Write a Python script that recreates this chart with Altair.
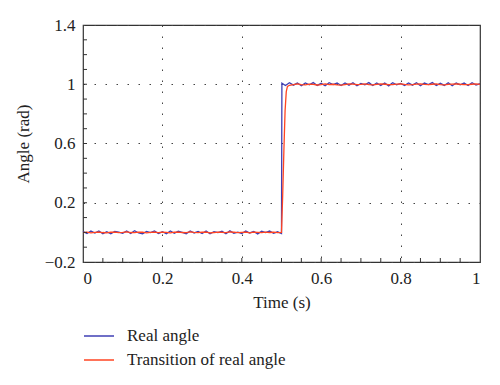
import altair as alt
import pandas as pd

# ---- data ----
series_names = ["Real angle", "Transition of real angle"]

blue_time = [
    0.00, 0.01, 0.02, 0.03, 0.04, 0.05, 0.06, 0.07, 0.08, 0.09,
    0.10, 0.11, 0.12, 0.13, 0.14, 0.15, 0.16, 0.17, 0.18, 0.19,
    0.20, 0.21, 0.22, 0.23, 0.24, 0.25, 0.26, 0.27, 0.28, 0.29,
    0.30, 0.31, 0.32, 0.33, 0.34, 0.35, 0.36, 0.37, 0.38, 0.39,
    0.40, 0.41, 0.42, 0.43, 0.44, 0.45, 0.46, 0.47, 0.48, 0.49,
    0.50, 0.501,
    0.51, 0.52, 0.53, 0.54, 0.55, 0.56, 0.57, 0.58, 0.59, 0.60,
    0.61, 0.62, 0.63, 0.64, 0.65, 0.66, 0.67, 0.68, 0.69, 0.70,
    0.71, 0.72, 0.73, 0.74, 0.75, 0.76, 0.77, 0.78, 0.79, 0.80,
    0.81, 0.82, 0.83, 0.84, 0.85, 0.86, 0.87, 0.88, 0.89, 0.90,
    0.91, 0.92, 0.93, 0.94, 0.95, 0.96, 0.97, 0.98, 0.99, 1.00,
]
blue_angle = [
    0.006, -0.008, 0.009, -0.004, 0.010, -0.009, 0.004, -0.010, 0.007, 0.002,
    -0.006, 0.009, -0.008, 0.011, -0.004, -0.009, 0.006, -0.002, 0.010, -0.008,
    0.004, -0.010, 0.009, -0.006, 0.008, 0.000, -0.009, 0.010, -0.004, 0.006,
    -0.008, 0.009, -0.010, 0.004, -0.002, 0.008, -0.009, 0.010, -0.006, 0.002,
    -0.008, 0.009, -0.004, 0.006, -0.010, 0.008, -0.002, 0.009, -0.006, 0.004,
    -0.008, 1.007,
    0.991, 1.010, 0.994, 1.008, 0.990, 1.009, 0.996, 1.011, 0.992, 1.006,
    0.990, 1.010, 0.998, 1.008, 0.991, 1.009, 0.994, 1.010, 0.990, 1.006,
    0.996, 1.011, 0.991, 1.008, 0.992, 1.009, 0.989, 1.010, 0.996, 1.006,
    0.991, 1.009, 0.994, 1.010, 0.990, 1.008, 0.998, 1.011, 0.991, 1.006,
    0.992, 1.010, 0.990, 1.009, 0.996, 1.008, 0.991, 1.010, 0.994, 1.004,
]

red_time = [
    0.00, 0.01, 0.02, 0.03, 0.04, 0.05, 0.06, 0.07, 0.08, 0.09,
    0.10, 0.11, 0.12, 0.13, 0.14, 0.15, 0.16, 0.17, 0.18, 0.19,
    0.20, 0.21, 0.22, 0.23, 0.24, 0.25, 0.26, 0.27, 0.28, 0.29,
    0.30, 0.31, 0.32, 0.33, 0.34, 0.35, 0.36, 0.37, 0.38, 0.39,
    0.40, 0.41, 0.42, 0.43, 0.44, 0.45, 0.46, 0.47, 0.48, 0.49,
    0.50, 0.503, 0.506, 0.509, 0.512, 0.515, 0.52,
    0.53, 0.54, 0.55, 0.56, 0.57, 0.58, 0.59, 0.60,
    0.61, 0.62, 0.63, 0.64, 0.65, 0.66, 0.67, 0.68, 0.69, 0.70,
    0.71, 0.72, 0.73, 0.74, 0.75, 0.76, 0.77, 0.78, 0.79, 0.80,
    0.81, 0.82, 0.83, 0.84, 0.85, 0.86, 0.87, 0.88, 0.89, 0.90,
    0.91, 0.92, 0.93, 0.94, 0.95, 0.96, 0.97, 0.98, 0.99, 1.00,
]
red_angle = [
    -0.002, 0.001, -0.003, 0.000, 0.002, -0.001, -0.003, 0.001, 0.002, -0.002,
    0.000, 0.003, -0.001, -0.002, 0.001, 0.002, -0.003, 0.000, 0.001, -0.002,
    0.002, 0.000, -0.003, 0.001, 0.002, -0.001, -0.002, 0.003, 0.000, -0.002,
    0.001, 0.002, -0.003, -0.001, 0.002, 0.000, -0.002, 0.003, 0.001, -0.002,
    0.000, 0.002, -0.003, 0.001, 0.000, -0.002, 0.002, -0.001, 0.001, -0.002,
    0.000, 0.25, 0.55, 0.82, 0.95, 0.985, 0.993,
    0.997, 1.002, 0.998, 0.996, 1.001, 0.999, 0.995, 0.997,
    1.002, 0.998, 1.000, 0.996, 0.994, 0.998, 1.002, 1.001, 0.997, 0.999,
    1.003, 0.998, 0.996, 0.999, 1.002, 1.000, 0.997, 0.998, 1.001, 1.003,
    0.999, 0.996, 0.998, 1.001, 1.002, 0.999, 0.997, 1.000, 1.002, 0.998,
    0.996, 0.999, 1.001, 1.003, 1.000, 0.998, 0.997, 1.000, 1.002, 0.999,
]

x_labels = [0, 0.2, 0.4, 0.6, 0.8, 1]
y_labels = [-0.2, 0.2, 0.6, 1, 1.4]
x_minor = [0.05, 0.10, 0.15, 0.20, 0.25, 0.30, 0.35, 0.40, 0.45, 0.50,
           0.55, 0.60, 0.65, 0.70, 0.75, 0.80, 0.85, 0.90, 0.95]
y_minor = [-0.1, 0.0, 0.1, 0.2, 0.3, 0.4, 0.5, 0.6, 0.7, 0.8,
           0.9, 1.0, 1.1, 1.2, 1.3]

colors = ["#3f3fb4", "#ff4422"]
FONT = "Liberation Serif"
W, H = 397, 237

blue_df = pd.DataFrame({"t": blue_time, "a": blue_angle, "s": series_names[0]})
red_df = pd.DataFrame({"t": red_time, "a": red_angle, "s": series_names[1]})

xs = alt.Scale(domain=[0, 1], nice=False, zero=False)
ys = alt.Scale(domain=[-0.2, 1.4], nice=False, zero=False)

x_axis = alt.Axis(values=x_labels, title="Time (s)", ticks=False, domain=False,
                  grid=True, gridDash=[1.5, 9.5], gridColor="#444", gridWidth=1,
                  labelPadding=8, titlePadding=8, format="~g")
y_axis = alt.Axis(values=y_labels, title="Angle (rad)", ticks=False, domain=False,
                  grid=True, gridDash=[1.5, 9.5], gridColor="#444", gridWidth=1,
                  labelPadding=8, titlePadding=12, format="~g")

color = alt.Color("s:N", scale=alt.Scale(domain=series_names, range=colors),
                  legend=alt.Legend(title=None, orient="none", legendX=0, legendY=295,
                                    symbolType="stroke", symbolSize=900,
                                    symbolStrokeWidth=1.5, labelOffset=12,
                                    rowPadding=-7, padding=0))

blue_line = alt.Chart(blue_df).mark_line(strokeWidth=1.3).encode(
    x=alt.X("t:Q", scale=xs, axis=x_axis),
    y=alt.Y("a:Q", scale=ys, axis=y_axis),
    color=color,
)
red_line = alt.Chart(red_df).mark_line(strokeWidth=1.3).encode(
    x=alt.X("t:Q", scale=xs),
    y=alt.Y("a:Q", scale=ys),
    color=color,
)

xt = alt.Chart(pd.DataFrame({"v": x_minor})).mark_rule(color="#333", strokeWidth=1).encode(
    x=alt.X("v:Q", scale=xs), y=alt.value(H), y2=alt.value(H - 4))
yt = alt.Chart(pd.DataFrame({"v": y_minor})).mark_rule(color="#333", strokeWidth=1).encode(
    y=alt.Y("v:Q", scale=ys), x=alt.value(0), x2=alt.value(4))

chart = alt.layer(blue_line, red_line, xt, yt).properties(
    width=W, height=H,
    autosize=alt.AutoSizeParams(type="none"),
    padding={"left": 75, "top": 17, "right": 12, "bottom": 115},
).configure_view(
    stroke="#333", strokeWidth=1.2
).configure_axis(
    labelFont=FONT, titleFont=FONT, labelFontSize=17, titleFontSize=17,
    labelColor="#222", titleColor="#222", titleFontWeight="normal",
).configure_legend(
    labelFont=FONT, labelFontSize=17, labelColor="#222",
)

chart.save("out.html", embed_options={"renderer": "svg", "actions": False})
